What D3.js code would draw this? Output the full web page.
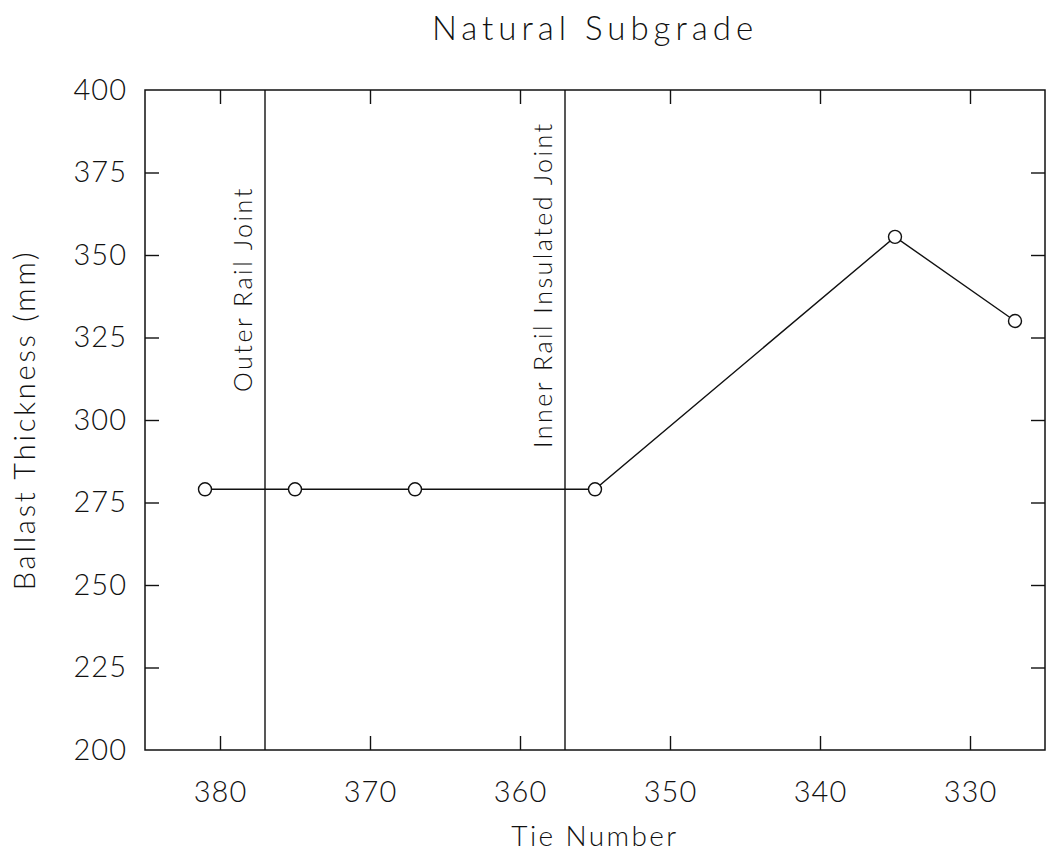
<!DOCTYPE html>
<html>
<head>
<meta charset="utf-8">
<script src="https://cdn.jsdelivr.net/npm/d3@7"></script>
<style>
  body { margin: 0; background: #fff; }
  text { font-family: "Lato", "DejaVu Sans", sans-serif; font-weight: 300; fill: #111; }
  .tick text { font-size: 29px; letter-spacing: 1px; }
  .tick line { stroke: #111; stroke-width: 1.4; }
  .domain { display: none; }
</style>
</head>
<body>
<script>
const w = 1047;
const h = 853;

// data
const tieNumbers = [381, 375, 367, 355, 335, 327];
const thickness = [279, 279, 279, 279, 355.5, 330];
const jointTies = [377, 357];
const jointLabels = ["Outer Rail Joint", "Inner Rail Insulated Joint"];
const xTicks = [380, 370, 360, 350, 340, 330];
const yTicks = [200, 225, 250, 275, 300, 325, 350, 375, 400];

const m = { t: 90, r: 2, b: 103, l: 145 };
const gridWidth = w - m.l - m.r;
const gridHeight = h - m.t - m.b;

const svg = d3.select("body").append("svg").attr("width", w).attr("height", h);

const xScale = d3.scaleLinear().domain([385, 325]).range([0, gridWidth]);
const yScale = d3.scaleLinear().domain([200, 400]).range([gridHeight, 0]);

const g = svg.append("g").attr("transform", `translate(${m.l}, ${m.t})`);

// title
svg
  .append("text")
  .attr("x", m.l + gridWidth / 2)
  .attr("y", 40)
  .attr("text-anchor", "middle")
  .attr("font-size", 33)
  .attr("letter-spacing", 5)
  .text("Natural Subgrade");

// axes, ticks inward
const tick = 14;
g.append("g")
  .attr("transform", `translate(0, ${gridHeight})`)
  .call(d3.axisBottom(xScale).tickValues(xTicks).tickSize(-tick).tickPadding(31));
g.append("g")
  .call(d3.axisTop(xScale).tickValues(xTicks).tickSize(-tick).tickFormat(""));
g.append("g")
  .call(d3.axisLeft(yScale).tickValues(yTicks.slice(1, -1)).tickSize(-tick).tickPadding(18));
g.append("g")
  .attr("transform", `translate(${gridWidth}, 0)`)
  .call(d3.axisRight(yScale).tickValues(yTicks.slice(1, -1)).tickSize(-tick).tickFormat(""));
// end labels 200 / 400 without ticks
g.selectAll(".endlab")
  .data([200, 400])
  .enter()
  .append("text")
  .attr("x", -18)
  .attr("y", (d) => yScale(d))
  .attr("dy", "0.36em")
  .attr("text-anchor", "end")
  .attr("font-size", 29)
  .attr("letter-spacing", 1)
  .text((d) => d);

// frame
g.append("rect")
  .attr("width", gridWidth)
  .attr("height", gridHeight)
  .attr("fill", "none")
  .attr("stroke", "#111")
  .attr("stroke-width", 1.5);

// axis titles
svg
  .append("text")
  .attr("x", m.l + gridWidth / 2)
  .attr("y", h - 7)
  .attr("text-anchor", "middle")
  .attr("font-size", 28)
  .attr("letter-spacing", 2.4)
  .text("Tie Number");
svg
  .append("text")
  .attr("transform", `rotate(-90)`)
  .attr("x", -(m.t + gridHeight / 2))
  .attr("y", 35)
  .attr("text-anchor", "middle")
  .attr("font-size", 29)
  .attr("letter-spacing", 2.8)
  .text("Ballast Thickness (mm)");

// joint lines
g.selectAll(".joint")
  .data(jointTies)
  .enter()
  .append("line")
  .attr("x1", (d) => xScale(d))
  .attr("x2", (d) => xScale(d))
  .attr("y1", 0)
  .attr("y2", gridHeight)
  .attr("stroke", "#111")
  .attr("stroke-width", 1.4);
const labBottom = [308.5, 291.5];
g.selectAll(".jlab")
  .data(jointTies)
  .enter()
  .append("text")
  .attr("transform", (d, i) => `translate(${xScale(d) - 13}, ${yScale(labBottom[i])}) rotate(-90)`)
  .attr("font-size", 25)
  .attr("letter-spacing", 2.5)
  .text((d, i) => jointLabels[i]);

// series
const pts = tieNumbers.map((t, i) => ({ t: t, v: thickness[i] }));
g.append("path")
  .datum(pts)
  .attr("fill", "none")
  .attr("stroke", "#111")
  .attr("stroke-width", 1.4)
  .attr("d", d3.line().x((d) => xScale(d.t)).y((d) => yScale(d.v)));
g.selectAll("circle")
  .data(pts)
  .enter()
  .append("circle")
  .attr("cx", (d) => xScale(d.t))
  .attr("cy", (d) => yScale(d.v))
  .attr("r", 6.5)
  .attr("fill", "#fff")
  .attr("stroke", "#111")
  .attr("stroke-width", 1.4);
</script>
</body>
</html>
